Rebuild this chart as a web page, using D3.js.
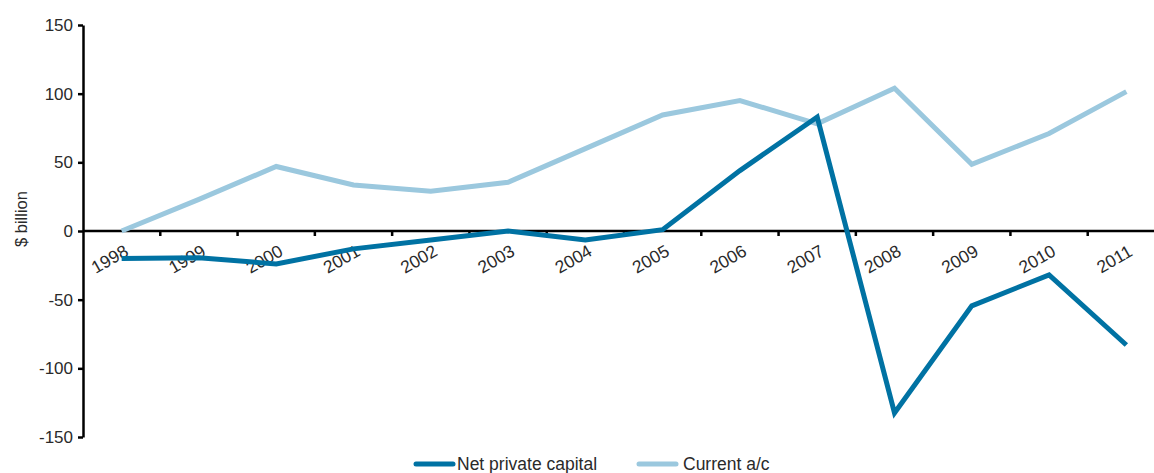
<!DOCTYPE html>
<html>
<head>
<meta charset="utf-8">
<script src="https://cdn.jsdelivr.net/npm/d3@7"></script>
<style>
  body { margin: 0; background: #fff; }
  svg text { font-family: "Liberation Sans", Arial, sans-serif; fill: #2a2a2a; }
</style>
</head>
<body>
<svg id="chart" width="1154" height="473"></svg>
<script>
// Data
const years = ['1998', '1999', '2000', '2001', '2002', '2003', '2004',
               '2005', '2006', '2007', '2008', '2009', '2010', '2011'];
const netPrivateCapital = [-20, -19.5, -24, -13, -6.5, 0, -6.5, 1, 44, 83, -132.5, -54.5, -32, -83];
const currentAccount = [0, 23, 47, 33.5, 29, 35.5, 60, 84.5, 95, 78, 104, 48.5, 71, 101.5];
const yTicks = [-150, -100, -50, 0, 50, 100, 150];

const series = [
    { name: 'Net private capital', values: netPrivateCapital, color: '#0072a3' },
    { name: 'Current a/c', values: currentAccount, color: '#9bc8de' }
];

const svg = d3.select('#chart');

const x = d3.scaleBand().domain(years).range([83, 1165]);
const y = d3.scaleLinear().domain([-150, 150]).range([437, 25]);

// Y axis (plain hyphen for negatives, like the original)
const yAxis = svg.append('g')
    .attr('transform', 'translate(83,0)')
    .call(d3.axisLeft(y).tickValues(yTicks).tickFormat(d => String(d))
        .tickSize(5).tickSizeOuter(0).tickPadding(5));
yAxis.select('.domain').attr('stroke', '#000').attr('stroke-width', 2.5);
yAxis.selectAll('.tick line').attr('stroke', '#000').attr('stroke-width', 2.5);
yAxis.selectAll('.tick text').attr('font-size', 17).attr('fill', '#2a2a2a')
    .attr('font-family', '"Liberation Sans", Arial, sans-serif');

// X axis along zero, ticks at category boundaries
const xAxis = svg.append('g')
    .attr('transform', `translate(0,${y(0)})`);
xAxis.append('line')
    .attr('x1', 83).attr('x2', 1154)
    .attr('stroke', '#000').attr('stroke-width', 2.5);
xAxis.selectAll('line.tick')
    .data(years.slice(1))
    .enter().append('line')
    .attr('class', 'tick')
    .attr('x1', d => x(d)).attr('x2', d => x(d))
    .attr('y1', 0).attr('y2', 5)
    .attr('stroke', '#000').attr('stroke-width', 2.5);
xAxis.selectAll('text')
    .data(years)
    .enter().append('text')
    .attr('transform', d => `translate(${x(d) + x.bandwidth() / 2 - 12},28) rotate(-30)`)
    .attr('text-anchor', 'middle')
    .attr('dy', '0.35em')
    .attr('font-size', 17.5)
    .text(d => d);

// Y axis title
svg.append('text')
    .attr('transform', 'translate(27,219) rotate(-90)')
    .attr('text-anchor', 'middle')
    .attr('font-size', 16.5)
    .text('$ billion');

// Lines
const line = d3.line()
    .x((d, i) => x(years[i]) + x.bandwidth() / 2)
    .y(d => y(d));

svg.selectAll('path.series')
    .data(series.slice().reverse())
    .enter().append('path')
    .attr('class', 'series')
    .attr('d', d => line(d.values))
    .attr('fill', 'none')
    .attr('stroke', d => d.color)
    .attr('stroke-width', 5)
    .attr('stroke-linejoin', 'miter');

// Legend
const legendX = [416, 639];
const legend = svg.selectAll('g.legend')
    .data(series)
    .enter().append('g')
    .attr('class', 'legend')
    .attr('transform', (d, i) => `translate(${legendX[i]},464)`);
legend.append('line')
    .attr('x1', 0).attr('x2', 37)
    .attr('stroke', d => d.color)
    .attr('stroke-width', 5)
    .attr('stroke-linecap', 'round');
legend.append('text')
    .attr('x', (d, i) => i === 0 ? 41 : 44)
    .attr('dy', '0.35em')
    .attr('font-size', 17.5)
    .text(d => d.name);
</script>
</body>
</html>
